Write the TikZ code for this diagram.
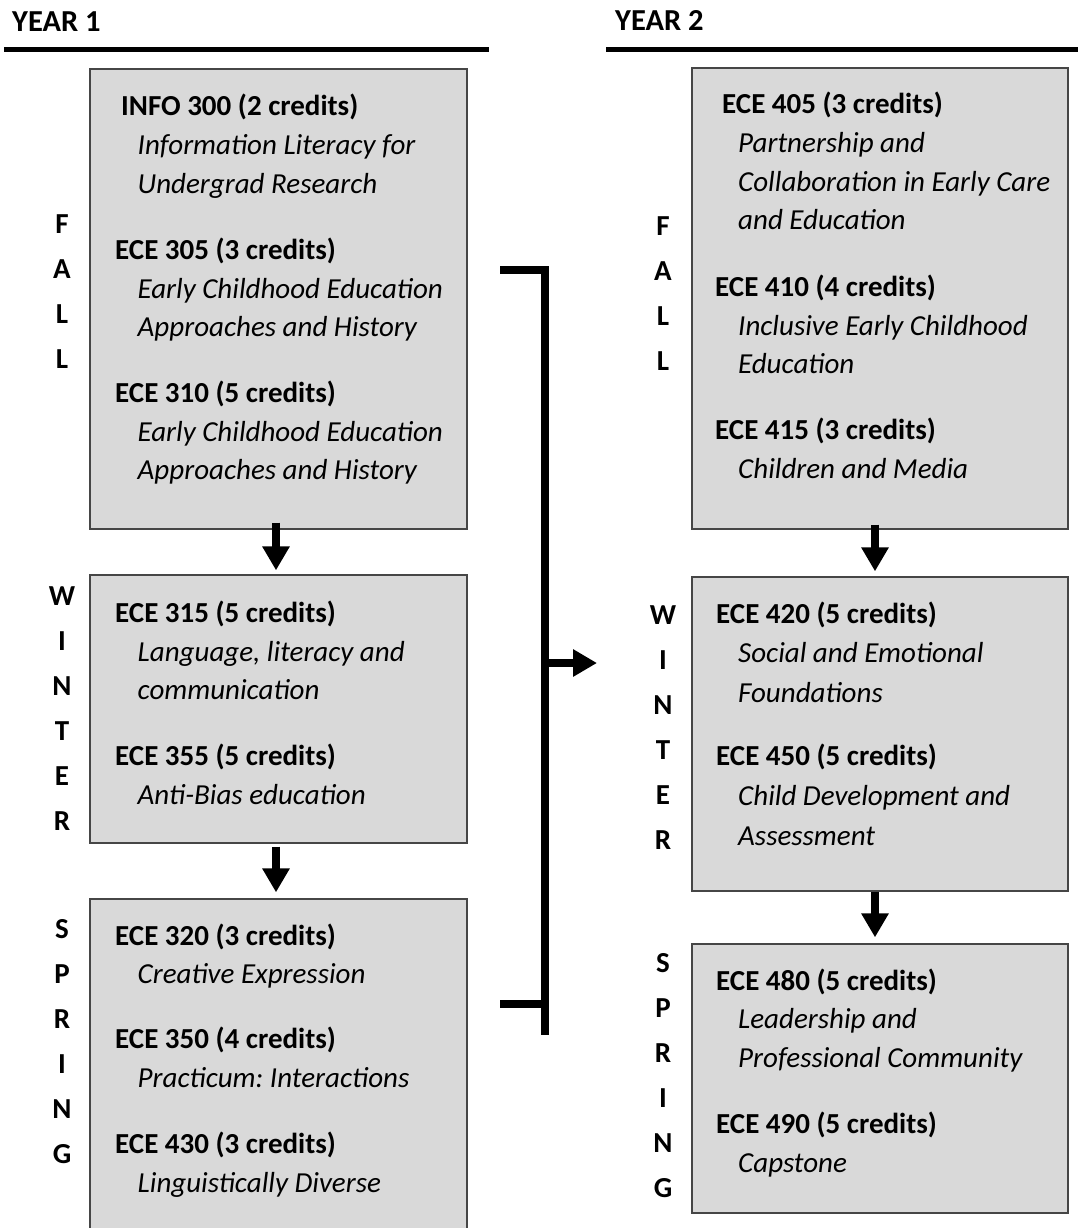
\documentclass[tikz,border=0pt]{standalone}
\usepackage{fontspec}
\setmainfont{Carlito}
\usetikzlibrary{arrows.meta,calc,fit}
\frenchspacing
\definecolor{boxfill}{RGB}{217,217,217}
\definecolor{boxline}{RGB}{70,70,70}
\tikzset{
  box/.style={draw=boxline, fill=boxfill, line width=1.3bp, inner sep=0pt, rectangle},
  hd/.style={anchor=base west, inner sep=0pt, font=\fontsize{29bp}{35bp}\selectfont\bfseries},
  yr/.style={anchor=base west, inner sep=0pt, font=\fontsize{30.5bp}{36bp}\selectfont\bfseries},
  it/.style={anchor=base west, inner sep=0pt, font=\fontsize{29bp}{35bp}\selectfont\itshape},
  season/.style={anchor=base, inner sep=0pt, font=\fontsize{29bp}{35bp}\selectfont\bfseries},
  rulebar/.style={line width=5bp},
  fat/.style={line width=8bp, -{Triangle[length=24bp,width=26bp]}},
  bar/.style={line width=8bp},
}
\begin{document}
\begin{tikzpicture}[x=1bp,y=-1bp]
\useasboundingbox (0,0) rectangle (1078,1228);

% year headings
\node[yr] (y1) at (12,31) {YEAR 1};
\node[yr] (y2) at (615,30) {YEAR 2};
\coordinate (r1a) at (4,49);   \coordinate (r1b) at (489,49);
\coordinate (r2a) at (606,49); \coordinate (r2b) at (1078,49);
\draw[rulebar] (r1a) -- (r1b);
\draw[rulebar] (r2a) -- (r2b);

% boxes
\node[box, fit={(90,69) (467,529)}] (b1) {};
\node[box, fit={(90,575) (467,843)}] (b2) {};
\node[box, fit={(90,899) (467,1240)}] (b3) {};
\node[box, fit={(692,68) (1068,529)}] (b4) {};
\node[box, fit={(692,577) (1068,891)}] (b5) {};
\node[box, fit={(692,944) (1068,1213)}] (b6) {};

% arrows between terms
\draw[fat] ($(b1.south)+(-2.5,-7)$) -- ($(b2.north)+(-2.5,-4)$);
\draw[fat] ($(b2.south)+(-2.5,3)$) -- ($(b3.north)+(-2.5,-6)$);
\draw[fat] ($(b4.south)+(-5,-5)$) -- ($(b5.north)+(-5,-5)$);
\draw[fat] ($(b5.south)+(-5,0)$) -- ($(b6.north)+(-5,-6)$);

% bracket to year 2
\coordinate (bt) at (500,270);
\coordinate (bb) at (545,1035);
\coordinate (bl) at (500,1004);
\coordinate (bm) at (545,663);
\coordinate (bmt) at (597,663);
\draw[bar] (bt) -| (bb);
\draw[bar] (bl) -- (bb|-bl);
\draw[fat] (bm) -- (bmt);

% season letters
\foreach \l [count=\i] in {F,A,L,L}
  \node[season] (sfa\i) at (62,{233+45*(\i-1)}) {\l};
\foreach \l [count=\i] in {W,I,N,T,E,R}
  \node[season] (swa\i) at (62,{605+45*(\i-1)}) {\l};
\foreach \l [count=\i] in {S,P,R,I,N,G}
  \node[season] (ssa\i) at (62,{938+45*(\i-1)}) {\l};
\foreach \l [count=\i] in {F,A,L,L}
  \node[season] (sfb\i) at (663,{235+45*(\i-1)}) {\l};
\foreach \l [count=\i] in {W,I,N,T,E,R}
  \node[season] (swb\i) at (663,{624+45*(\i-1)}) {\l};
\foreach \l [count=\i] in {S,P,R,I,N,G}
  \node[season] (ssb\i) at (663,{972+45*(\i-1)}) {\l};

% Year 1 Fall
\node[hd] (c300) at (121,115) {INFO 300 (2 credits)};
\node[it] (c300a) at (137.5,154) {Information Literacy for};
\node[it] (c300b) at (137.5,193) {Undergrad Research};
\node[hd] (c305) at (115,259) {ECE 305 (3 credits)};
\node[it] (c305a) at (137.5,298) {Early Childhood Education};
\node[it] (c305b) at (137.5,336) {Approaches and History};
\node[hd] (c310) at (115,402) {ECE 310 (5 credits)};
\node[it] (c310a) at (137.5,441) {Early Childhood Education};
\node[it] (c310b) at (137.5,479) {Approaches and History};

% Year 1 Winter
\node[hd] (c315) at (115,622) {ECE 315 (5 credits)};
\node[it] (c315a) at (137.5,661) {Language, literacy and};
\node[it] (c315b) at (137.5,699) {communication};
\node[hd] (c355) at (115,765) {ECE 355 (5 credits)};
\node[it] (c355a) at (137.5,804) {Anti-Bias education};

% Year 1 Spring
\node[hd] (c320) at (115,945) {ECE 320 (3 credits)};
\node[it] (c320a) at (137.5,983) {Creative Expression};
\node[hd] (c350) at (115,1048) {ECE 350 (4 credits)};
\node[it] (c350a) at (137.5,1087) {Practicum: Interactions};
\node[hd] (c430) at (115,1153) {ECE 430 (3 credits)};
\node[it] (c430a) at (137.5,1192) {Linguistically Diverse};

% Year 2 Fall
\node[hd] (c405) at (722,113) {ECE 405 (3 credits)};
\node[it] (c405a) at (738,152) {Partnership and};
\node[it] (c405b) at (738,191) {Collaboration in Early Care};
\node[it] (c405c) at (738,229) {and Education};
\node[hd] (c410) at (715,296) {ECE 410 (4 credits)};
\node[it] (c410a) at (738,335) {Inclusive Early Childhood};
\node[it] (c410b) at (738,373) {Education};
\node[hd] (c415) at (715,439) {ECE 415 (3 credits)};
\node[it] (c415a) at (738,478) {Children and Media};

% Year 2 Winter
\node[hd] (c420) at (716,623) {ECE 420 (5 credits)};
\node[it] (c420a) at (738,662) {Social and Emotional};
\node[it] (c420b) at (738,702) {Foundations};
\node[hd] (c450) at (716,765) {ECE 450 (5 credits)};
\node[it] (c450a) at (738,805) {Child Development and};
\node[it] (c450b) at (738,845) {Assessment};

% Year 2 Spring
\node[hd] (c480) at (716,990) {ECE 480 (5 credits)};
\node[it] (c480a) at (738,1028) {Leadership and};
\node[it] (c480b) at (738,1067) {Professional Community};
\node[hd] (c490) at (716,1133) {ECE 490 (5 credits)};
\node[it] (c490a) at (738,1172) {Capstone};
\end{tikzpicture}
\end{document}
